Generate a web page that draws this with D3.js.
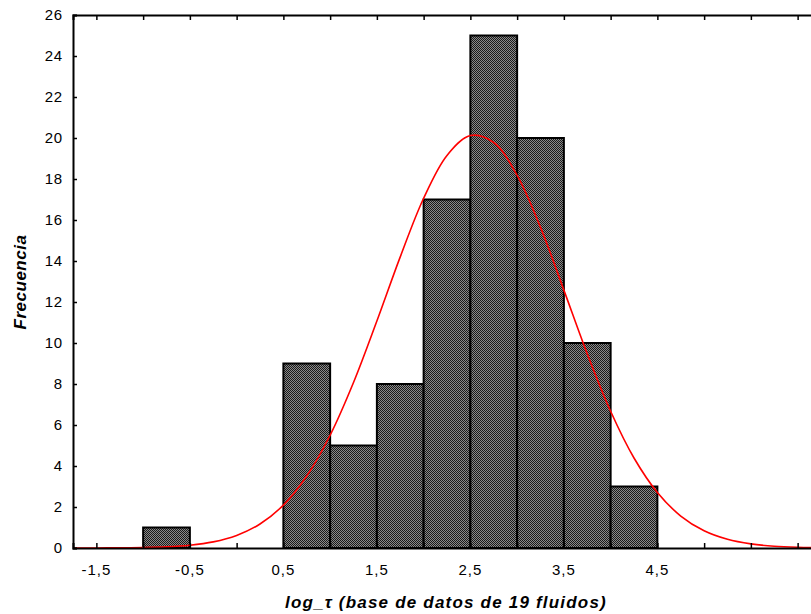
<!DOCTYPE html>
<html>
<head>
<meta charset="utf-8">
<script src="https://cdn.jsdelivr.net/npm/d3@7"></script>
<style>
  body { margin: 0; background: #fff; }
  svg { display: block; }
  text { font-family: "Liberation Sans", Arial, Helvetica, sans-serif; fill: #000; }
</style>
</head>
<body>
<svg id="chart" width="811" height="614"></svg>
<script>
// Histogram bins (left edge, right edge) and frequencies
const binStarts = [-1.0, -0.5, 0.0, 0.5, 1.0, 1.5, 2.0, 2.5, 3.0, 3.5, 4.0];
const binEnds   = [-0.5,  0.0, 0.5, 1.0, 1.5, 2.0, 2.5, 3.0, 3.5, 4.0, 4.5];
const counts    = [1, 0, 0, 9, 5, 8, 17, 25, 20, 10, 3];

// Fitted normal curve
const curveX = [-1.75, -1.5, -1.25, -1.0, -0.75, -0.5, -0.25, 0.0, 0.25, 0.5, 0.75, 1.0, 1.25, 1.5, 1.75, 2.0, 2.25, 2.5, 2.75, 3.0, 3.25, 3.5, 3.75, 4.0, 4.25, 4.5, 4.75, 5.0, 5.25, 5.5, 5.75, 6.0, 6.25];
const curveY = [0.001, 0.003, 0.009, 0.023, 0.058, 0.136, 0.298, 0.611, 1.17, 2.09, 3.51, 5.50, 8.07, 11.07, 14.20, 17.06, 19.15, 20.12, 19.78, 18.18, 15.64, 12.58, 9.47, 6.67, 4.39, 2.71, 1.56, 0.84, 0.424, 0.200, 0.088, 0.036, 0.014];

// Axis ticks
const xTickValues = [-1.5, -1.0, -0.5, 0.0, 0.5, 1.0, 1.5, 2.0, 2.5, 3.0, 3.5, 4.0, 4.5, 5.0, 5.5, 6.0];
const xTickLabels = ["-1,5", "-0,5", "0,5", "1,5", "2,5", "3,5", "4,5"];
const xLabelValues = [-1.5, -0.5, 0.5, 1.5, 2.5, 3.5, 4.5];
const yTickValues = [0, 2, 4, 6, 8, 10, 12, 14, 16, 18, 20, 22, 24, 26];

const xTitle = "log_τ (base de datos de 19 fluidos)";
const yTitle = "Frecuencia";

const svg = d3.select("#chart");
const mLeft = 73, mTop = 15, mBottom = 548;

const x = d3.scaleLinear().domain([-1.75, 6.25]).range([mLeft, mLeft + 8 * 93.5]);
const y = d3.scaleLinear().domain([0, 26]).range([mBottom, mTop]);

const defs = svg.append("defs");
const pat = defs.append("pattern")
  .attr("id", "checker").attr("patternUnits", "userSpaceOnUse")
  .attr("width", 2).attr("height", 2);
pat.append("rect").attr("width", 2).attr("height", 2).attr("fill", "#8a8a8a");
pat.append("rect").attr("width", 1).attr("height", 1).attr("fill", "#1a1a1a");
pat.append("rect").attr("x", 1).attr("y", 1).attr("width", 1).attr("height", 1).attr("fill", "#1a1a1a");

// Bars
const bins = counts.map((c, i) => ({ x0: binStarts[i], x1: binEnds[i], c }));
svg.append("g").selectAll("rect")
  .data(bins.filter(d => d.c > 0))
  .join("rect")
  .attr("x", d => x(d.x0))
  .attr("y", d => y(d.c))
  .attr("width", d => x(d.x1) - x(d.x0))
  .attr("height", d => y(0) - y(d.c))
  .attr("fill", "url(#checker)")
  .attr("stroke", "#000")
  .attr("stroke-width", 2);

// Normal curve
const line = d3.line()
  .x((d, i) => x(curveX[i]))
  .y(d => y(d))
  .curve(d3.curveCatmullRom);
svg.append("path")
  .datum(curveY)
  .attr("d", line)
  .attr("fill", "none")
  .attr("stroke", "#ff0000")
  .attr("stroke-width", 1.6);

// Axes
const xBottom = d3.axisBottom(x).tickValues(xTickValues).tickSize(-5).tickFormat("");
const gxb = svg.append("g").attr("transform", `translate(0,${mBottom})`).call(xBottom);
const xTopAxis = d3.axisTop(x).tickValues(xTickValues).tickSize(-5).tickFormat("");
const gxt = svg.append("g").attr("transform", `translate(0,${mTop})`).call(xTopAxis);
const yLeft = d3.axisLeft(y).tickValues(yTickValues).tickSize(-4).tickFormat(d3.format("d"));
const gy = svg.append("g").attr("transform", `translate(${mLeft},0)`).call(yLeft);

[gxb, gxt, gy].forEach(g => {
  g.select(".domain").attr("stroke", "#000").attr("stroke-width", 2);
  g.selectAll(".tick line").attr("stroke", "#000").attr("stroke-width", 1.5);
});
gy.selectAll(".tick text")
  .attr("x", -10)
  .attr("font-size", 15)
  .attr("letter-spacing", 0.8)
  .attr("font-family", "'Liberation Sans', Arial, sans-serif")
  .attr("fill", "#000");

// X labels
svg.append("g").selectAll("text")
  .data(xLabelValues)
  .join("text")
  .attr("x", d => x(d))
  .attr("y", 575)
  .attr("text-anchor", "middle")
  .attr("font-size", 15)
  .attr("letter-spacing", 1)
  .text((d, i) => xTickLabels[i]);

// Titles
svg.append("text")
  .attr("x", 446).attr("y", 608)
  .attr("text-anchor", "middle")
  .attr("font-size", 17)
  .attr("letter-spacing", 1.2)
  .attr("font-weight", "bold")
  .attr("font-style", "italic")
  .text(xTitle);

svg.append("text")
  .attr("transform", "translate(26,282) rotate(-90)")
  .attr("text-anchor", "middle")
  .attr("font-size", 17)
  .attr("letter-spacing", 0.5)
  .attr("font-weight", "bold")
  .attr("font-style", "italic")
  .text(yTitle);
</script>
</body>
</html>
